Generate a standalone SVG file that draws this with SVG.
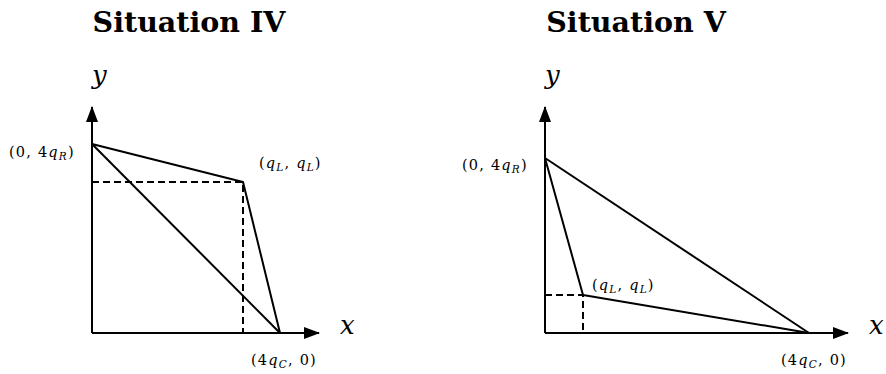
<svg xmlns="http://www.w3.org/2000/svg" width="886" height="374" viewBox="0 0 886 374">
<style>
.title{font-family:'DejaVu Serif',serif;font-weight:bold;font-size:28.5px;fill:#000}
.ax{font-family:'DejaVu Serif',serif;font-style:italic;font-size:26px;fill:#000}
.lbl{font-family:'DejaVu Serif',serif;font-size:14.5px;letter-spacing:1.2px;fill:#000}
.it{font-style:italic}
.sub{font-style:italic;font-size:10.5px}
.ln{fill:none;stroke:#000;stroke-width:2;stroke-linejoin:round}
.dash{fill:none;stroke:#000;stroke-width:2;stroke-dasharray:7,4}
.axis{fill:none;stroke:#000;stroke-width:2}
</style>
<defs>
<marker id="arr" viewBox="0 0 16 12" refX="15" refY="6" markerWidth="16" markerHeight="12" markerUnits="userSpaceOnUse" orient="auto">
<path d="M0,0 L16,6 L0,12 Z" fill="#000"/>
</marker>
</defs>
<g id="situation-iv">
<text class="title" x="189" y="32" text-anchor="middle">Situation IV</text>
<text class="ax" x="92" y="84">y</text>
<text class="ax" x="340" y="334">x</text>
<text class="lbl" x="9" y="157">(0, 4<tspan class="it">q</tspan><tspan class="sub" dy="3">R</tspan><tspan dy="-3">)</tspan></text>
<text class="lbl" x="259" y="168">(<tspan class="it">q</tspan><tspan class="sub" dy="3">L</tspan><tspan dy="-3">, </tspan><tspan class="it">q</tspan><tspan class="sub" dy="3">L</tspan><tspan dy="-3">)</tspan></text>
<text class="lbl" x="251" y="365">(4<tspan class="it">q</tspan><tspan class="sub" dy="3">C</tspan><tspan dy="-3">, 0)</tspan></text>
</g>
<g id="situation-v">
<text class="title" x="636" y="32" text-anchor="middle">Situation V</text>
<text class="ax" x="545" y="84">y</text>
<text class="ax" x="869" y="334">x</text>
<text class="lbl" x="462" y="170">(0, 4<tspan class="it">q</tspan><tspan class="sub" dy="3">R</tspan><tspan dy="-3">)</tspan></text>
<text class="lbl" x="592" y="290">(<tspan class="it">q</tspan><tspan class="sub" dy="3">L</tspan><tspan dy="-3">, </tspan><tspan class="it">q</tspan><tspan class="sub" dy="3">L</tspan><tspan dy="-3">)</tspan></text>
<text class="lbl" x="781" y="365">(4<tspan class="it">q</tspan><tspan class="sub" dy="3">C</tspan><tspan dy="-3">, 0)</tspan></text>
</g>
<g id="connectors">
<line class="axis" x1="92" y1="333" x2="92" y2="107" marker-end="url(#arr)"/>
<line class="axis" x1="92" y1="333" x2="319" y2="333" marker-end="url(#arr)"/>
<polyline class="dash" points="92,182 243,182 243,333"/>
<polyline class="ln" points="92,144 243,182 280,333"/>
<line class="ln" x1="92" y1="144" x2="280" y2="333"/>
<line class="axis" x1="545" y1="333" x2="545" y2="107" marker-end="url(#arr)"/>
<line class="axis" x1="545" y1="333" x2="848" y2="333" marker-end="url(#arr)"/>
<polyline class="dash" points="545,295 583,295 583,333"/>
<polyline class="ln" points="545,158 583,295 809,333"/>
<line class="ln" x1="545" y1="158" x2="809" y2="333"/>
</g>
</svg>
